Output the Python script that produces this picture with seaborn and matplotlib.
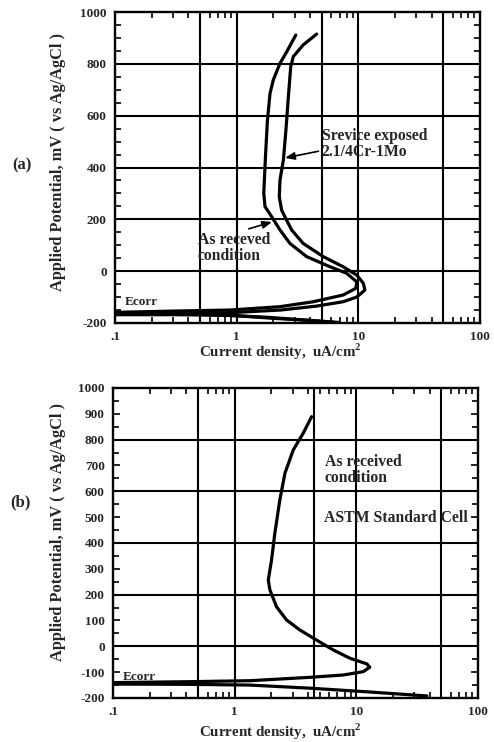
import numpy as np
import pandas as pd
import matplotlib
matplotlib.use("Agg")
import matplotlib.pyplot as plt
import matplotlib.ticker as mticker
import seaborn as sns

# ---------------- data ----------------
# Panel (a): As received condition (inner curve)
a_recv_i = [7.0, 4.0, 2.0, 1.0, 0.4, 0.08, 0.08, 0.3, 0.88, 2.27, 4.26, 7.5, 9.55, 9.7, 8.0,
            5.85, 3.76, 2.74, 2.27, 1.94, 1.71, 1.67, 1.70, 1.73, 1.79, 1.88, 2.0, 2.27, 2.58, 3.06]
a_recv_e = [-198, -190, -182, -172, -166, -164, -160, -154, -150, -137, -118, -92, -66, -41, -8,
            17, 56, 107, 159, 210, 249, 300, 380, 455, 583, 686, 738, 802, 847, 911]
# Panel (a): Service exposed 2.1/4Cr-1Mo (outer curve)
a_serv_i = [6.2, 3.5, 1.8, 0.8, 0.3, 0.08, 0.08, 0.3, 0.9, 2.3, 4.5, 7.5, 9.7, 11.3, 11.0,
            9.7, 7.5, 5.15, 3.52, 2.83, 2.49, 2.34, 2.24, 2.27, 2.42, 2.54, 2.66, 2.78, 2.92,
            3.52, 4.54]
a_serv_e = [-197, -188, -178, -170, -168, -168, -166, -164, -160, -150, -135, -118, -100, -73, -47,
            -15, 17, 56, 107, 159, 210, 236, 287, 352, 429, 545, 673, 789, 828,
            873, 915]
# Panel (b): As received condition, ASTM standard cell
b_recv_i = [38, 20, 12.2, 4.16, 1.34, 0.4, 0.08, 0.08, 0.4, 1.34, 4.16, 7.8, 11.4, 12.9, 12.2,
            8.85, 6.46, 4.72, 3.44, 2.67, 2.21, 1.95, 1.89, 2.01, 2.14, 2.35, 2.59, 3.03, 3.66, 4.29]
b_recv_e = [-192, -183, -176, -162, -150, -147, -146, -141, -137, -133, -120, -111, -98, -81, -68,
            -46, -14, 24, 63, 102, 153, 218, 257, 334, 438, 566, 670, 760, 825, 889]

x_tick_vals = [0.1, 1, 10, 100]
x_tick_labels = [".1", "1", "10", "100"]
a_y_ticks = [-200, 0, 200, 400, 600, 800, 1000]
b_y_ticks = [-200, -100, 0, 100, 200, 300, 400, 500, 600, 700, 800, 900, 1000]
a_x_grid = [0.5, 1, 5, 10, 50]
b_x_grid = [0.5, 1, 4.5, 10, 50]
y_grid = [0, 200, 400, 600, 800]

# ---------------- style ----------------
sns.set_style("white")
plt.rcParams["font.family"] = ["Liberation Serif", "DejaVu Serif"]
plt.rcParams["font.weight"] = "bold"
plt.rcParams["axes.labelweight"] = "bold"
plt.rcParams["mathtext.fontset"] = "custom"
plt.rcParams["mathtext.bf"] = "Liberation Serif:bold"
plt.rcParams["mathtext.rm"] = "Liberation Serif:bold"

fig = plt.figure(figsize=(4.94, 7.42), dpi=100)
ax1 = fig.add_axes([0.2328, 0.5647, 0.7389, 0.4191])
ax2 = fig.add_axes([0.2287, 0.0593, 0.7389, 0.4178])

df_a1 = pd.DataFrame({"i": a_recv_i, "E": a_recv_e})
df_a2 = pd.DataFrame({"i": a_serv_i, "E": a_serv_e})
df_b = pd.DataFrame({"i": b_recv_i, "E": b_recv_e})

LW = 2.3
for ax, xg in ((ax1, a_x_grid), (ax2, b_x_grid)):
    ax.set_xscale("log")
    ax.set_xlim(0.1, 100)
    ax.set_ylim(-200, 1000)
    for g in xg:
        ax.axvline(g, color="black", lw=1.5, zorder=1)
    for g in y_grid:
        ax.axhline(g, color="black", lw=1.5, zorder=1)

for df, ax in ((df_a1, ax1), (df_a2, ax1), (df_b, ax2)):
    sns.lineplot(data=df, x="i", y="E", sort=False, estimator=None, color="black", lw=LW, ax=ax,
                 solid_joinstyle="round", solid_capstyle="round")

for ax, yt in ((ax1, a_y_ticks), (ax2, b_y_ticks)):
    ax.xaxis.set_major_locator(mticker.FixedLocator(x_tick_vals))
    ax.xaxis.set_major_formatter(mticker.FixedFormatter(x_tick_labels))
    ax.xaxis.set_minor_locator(mticker.LogLocator(base=10, subs=np.arange(2, 10), numticks=20))
    ax.xaxis.set_minor_formatter(mticker.NullFormatter())
    ax.yaxis.set_major_locator(mticker.FixedLocator(yt))
    ax.yaxis.set_major_formatter(mticker.FixedFormatter([str(v) for v in yt]))
    ax.yaxis.set_minor_locator(mticker.MultipleLocator(50))
    ax.tick_params(which="both", direction="in", top=True, right=True, bottom=True, left=True,
                   width=1.2, color="black")
    ax.tick_params(which="major", length=5, labelsize=9.5, pad=6)
    ax.tick_params(which="minor", length=4)
    for lab in ax.get_xticklabels() + ax.get_yticklabels():
        lab.set_fontweight("bold")
    for s in ax.spines.values():
        s.set_linewidth(1.7)
        s.set_color("black")
    ax.set_xlabel("Current density,  uA/cm$^{\\mathbf{2}}$", fontsize=10.8, fontweight="bold")
    ax.set_ylabel("Applied Potential, mV ( vs Ag/AgCl )", fontsize=11.8, fontweight="bold")
    ax.xaxis.label.set_va("center")
    ax.yaxis.label.set_va("center")
    ax.yaxis.label.set_ha("center")
    ax.text(0.12, -120, "Ecorr", fontsize=9.5, fontweight="bold", ha="left", va="center")

ax1.xaxis.set_label_coords(0.452, -0.093)
ax2.xaxis.set_label_coords(0.46, -0.11)
ax1.yaxis.set_label_coords(-0.156, 0.518)
ax2.yaxis.set_label_coords(-0.151, 0.535)

# annotations panel (a)
ax1.annotate("Srevice exposed\n2.1/4Cr-1Mo", xy=(2.5, 437), xytext=(5.0, 490),
             fontsize=11.3, fontweight="bold", ha="left", va="center", linespacing=1.0,
             arrowprops=dict(arrowstyle="-|>,head_length=0.5,head_width=0.2", color="black", lw=1.2,
                             shrinkA=0, shrinkB=0, relpos=(0.0, 0.3)))
ax1.annotate("As receved\ncondition", xy=(1.95, 190), xytext=(0.48, 89),
             fontsize=11.3, fontweight="bold", ha="left", va="center", linespacing=1.0,
             arrowprops=dict(arrowstyle="-|>,head_length=0.5,head_width=0.2", color="black", lw=1.2,
                             shrinkA=0, shrinkB=0, relpos=(0.55, 1.0)))
# annotations panel (b)
ax2.text(5.5, 683, "As received\ncondition", fontsize=11.3, fontweight="bold", ha="left", va="center",
         linespacing=1.0)
ax2.text(5.4, 497, "ASTM Standard Cell", fontsize=11.3, fontweight="bold", ha="left", va="center")

fig.text(22 / 494, 1 - 165 / 742, "(a)", fontsize=12, fontweight="bold", ha="center", va="center")
fig.text(20 / 494, 1 - 502 / 742, "(b)", fontsize=12, fontweight="bold", ha="center", va="center")

fig.savefig("out.png", dpi=100)
